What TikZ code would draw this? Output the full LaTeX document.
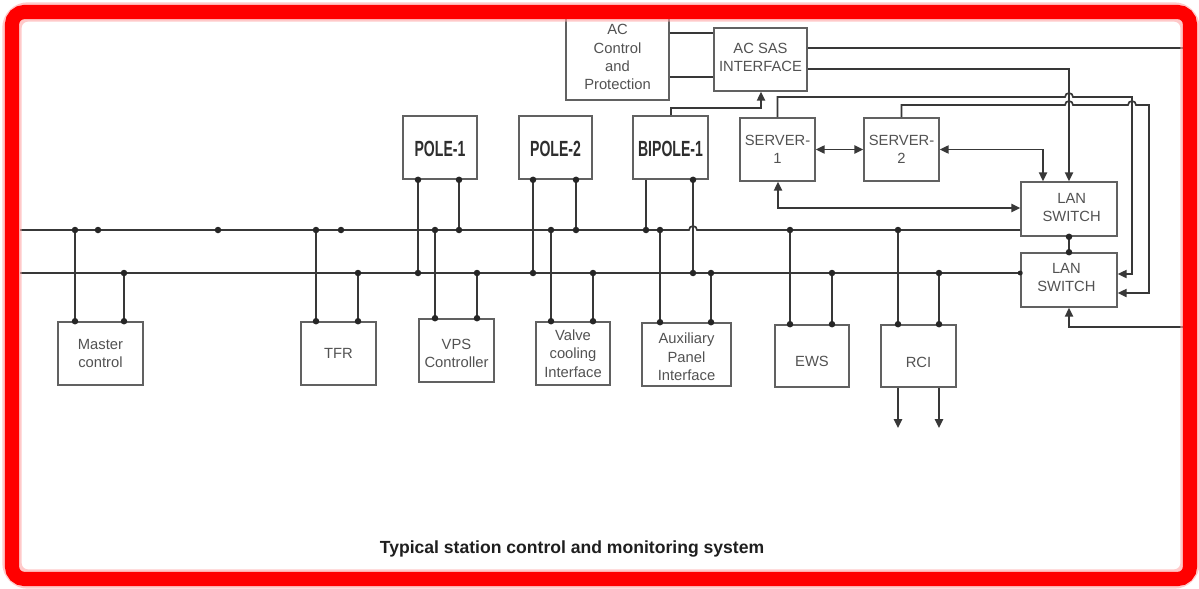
\documentclass[tikz,border=0pt]{standalone}
\usepackage{fontspec}
\setmainfont{Liberation Sans}
\newfontfamily\polefont[FakeStretch=0.64]{Liberation Sans}
\usetikzlibrary{arrows.meta,fit,calc}
\begin{document}
\begin{tikzpicture}[x=0.02cm,y=-0.02cm,
  wire/.style={draw=black!78, line width=0.95pt},
  box/.style={draw=black!62, line width=0.9pt, inner sep=0pt},
  lbl/.style={inner sep=0pt, align=center, text=black!68, font=\fontsize{8.4}{10.4}\selectfont},
  polelbl/.style={inner sep=0pt, text=black!82, font=\polefont\bfseries\fontsize{12.5}{14}\selectfont},
  arr/.style={-{Triangle[length=5pt,width=4.6pt]}},
  darr/.style={{Triangle[length=5pt,width=4.6pt]}-{Triangle[length=5pt,width=4.6pt]}},
  dotc/.style={fill=black!85}]
\useasboundingbox (0,0) rectangle (1199,588);
\fill[white] (0,0) rectangle (1199,588);

% ---------- boxes ----------
\node[box, fit={(566,18) (669,100)}, label={[lbl,yshift=1pt]center:{AC\\Control\\and\\Protection}}] (acc) {};
\node[box, fit={(714,28) (807,91)}, label={[lbl,yshift=1pt]center:{AC SAS\\INTERFACE}}] (sas) {};
\node[box, fit={(403,116) (477,179)}, label={[polelbl,yshift=-1pt]center:{POLE-1}}] (p1) {};
\node[box, fit={(519,116) (592,179)}, label={[polelbl,yshift=-1pt]center:{POLE-2}}] (p2) {};
\node[box, fit={(633,116) (708,179)}, label={[polelbl,yshift=-1pt]center:{BIPOLE-1}}] (bp) {};
\node[box, fit={(740,118) (815,181)}, label={[lbl]center:{SERVER-\\1}}] (s1) {};
\node[box, fit={(864,118) (939,181)}, label={[lbl]center:{SERVER-\\2}}] (s2) {};
\node[box, fit={(1021,182) (1117,236)}, label={[lbl,xshift=1.5pt,yshift=1pt]center:{LAN\\SWITCH}}] (lan1) {};
\node[box, fit={(1021,253) (1117,307)}, label={[lbl,xshift=-1.5pt,yshift=1.5pt]center:{LAN\\SWITCH}}] (lan2) {};
\node[box, fit={(58,322) (143,385)}, label={[lbl]center:{Master\\control}}] (mc) {};
\node[box, fit={(301,322) (376,385)}, label={[lbl]center:{TFR}}] (tfr) {};
\node[box, fit={(419,319) (494,382)}, label={[lbl,yshift=-1.7pt]center:{VPS\\Controller}}] (vps) {};
\node[box, fit={(536,322) (610,385)}, label={[lbl]center:{Valve\\cooling\\Interface}}] (vci) {};
\node[box, fit={(642,323) (731,386)}, label={[lbl,yshift=-1.4pt]center:{Auxiliary\\Panel\\Interface}}] (api) {};
\node[box, fit={(775,325) (849,387)}, label={[lbl,yshift=-2.8pt]center:{EWS}}] (ews) {};
\node[box, fit={(881,325) (956,387)}, label={[lbl,yshift=-3.8pt]center:{RCI}}] (rci) {};

% ---------- coordinates ----------
\coordinate (ubl) at (20,230);
\coordinate (lbl) at (20,273);
\coordinate (hopb) at (689,230);
\foreach \x in {75,98,218,316,341,435,459,551,576,646,660,790,898}
  \coordinate (u\x) at (\x,230);
\foreach \x in {124,358,418,477,533,593,693,711,832,939}
  \coordinate (l\x) at (\x,273);
\foreach \v in {33,48,69,77,97,105,108,208,274,293,327}
  \coordinate (y\v) at (0,\v);
\foreach \v in {671,761,777,778,901,1043,1132,1149}
  \coordinate (x\v) at (\v,0);
\coordinate (fr48) at (1183,48);
\coordinate (fr327) at (1183,327);
\coordinate (h1) at (1065,97);
\coordinate (h2) at (1065,105);
\coordinate (h3) at (1128,105);
\coordinate (ro1) at (898,428);
\coordinate (ro2) at (939,428);

% ---------- buses ----------
\draw[wire] (ubl) -- (hopb) arc[start angle=180,end angle=0,radius=0.08cm] -- (ubl -| lan1.west);
\draw[wire] (lbl) -- (lbl -| lan2.west);
\fill[dotc] (lbl -| lan2.west) circle (0.05cm);

% ---------- pole drops ----------
\draw[wire] (l418 |- p1.south) -- (l418);
\draw[wire] (u459 |- p1.south) -- (u459);
\draw[wire] (l533 |- p2.south) -- (l533);
\draw[wire] (u576 |- p2.south) -- (u576);
\draw[wire] (u646 |- bp.south) -- (u646);
\draw[wire] (l693 |- bp.south) -- (l693);
\foreach \c/\n in {l418/p1,u459/p1,l533/p2,u576/p2,l693/bp}
  \fill[dotc] (\c |- \n.south) circle (0.065cm);

% ---------- lower boxes ----------
\foreach \x/\n in {75/mc,316/tfr,435/vps,551/vci,660/api,790/ews,898/rci}{
  \draw[wire] (u\x) -- (u\x |- \n.north);
  \fill[dotc] (u\x |- \n.north) circle (0.065cm);}
\foreach \x/\n in {124/mc,358/tfr,477/vps,593/vci,711/api,832/ews,939/rci}{
  \draw[wire] (l\x) -- (l\x |- \n.north);
  \fill[dotc] (l\x |- \n.north) circle (0.065cm);}

% bus dots
\foreach \x in {75,98,218,316,341,435,459,551,576,646,660,790,898}
  \fill[dotc] (u\x) circle (0.065cm);
\foreach \x in {124,358,418,477,533,593,693,711,832,939}
  \fill[dotc] (l\x) circle (0.065cm);

% RCI outputs
\draw[wire,arr] (ro1 |- rci.south) -- (ro1);
\draw[wire,arr] (ro2 |- rci.south) -- (ro2);

% ---------- top connectors ----------
\draw[wire] (acc.east |- y33) -- (sas.west |- y33);
\draw[wire] (acc.east |- y77) -- (sas.west |- y77);
\draw[wire] (sas.east |- y48) -- (fr48);
\draw[wire,arr] (sas.east |- y69) -| (lan1.north);
\draw[wire,arr] (bp.north -| x671) |- (x761 |- y108) -- (sas.south -| x761);
\draw[wire,darr] (s1.east) -- (s2.west);
\draw[wire,darr] (s2.east) -| (lan1.north -| x1043);
\draw[wire,darr] (lan1.west |- y208) -| (s1.south -| x778);
\draw[wire,arr] (s1.north) |- (h1) arc[start angle=180,end angle=0,radius=0.08cm]
  -- (x1132 |- y97) -- (x1132 |- y274) -- (lan2.east |- y274);
\draw[wire,arr] (s2.north) |- (h2) arc[start angle=180,end angle=0,radius=0.08cm]
  -- (h3) arc[start angle=180,end angle=0,radius=0.08cm]
  -- (x1149 |- y105) -- (x1149 |- y293) -- (lan2.east |- y293);
\draw[wire] (lan1.south) -- (lan2.north);
\fill[dotc] (lan1.south) circle (0.065cm);
\fill[dotc] (lan2.north) circle (0.065cm);
\draw[wire,arr] (fr327) -| (lan2.south);

% ---------- caption ----------
\node[font=\bfseries\fontsize{10}{12}\selectfont, text=black!88] (cap) at (572,549) {Typical station control and monitoring system};

% ---------- red frame ----------
\draw[red!35, line width=11pt, rounded corners=9pt, opacity=0.6] (12,12) rectangle (1190,579);
\draw[red, line width=8pt, rounded corners=7pt] (12,12) rectangle (1190,579);
\end{tikzpicture}
\end{document}
